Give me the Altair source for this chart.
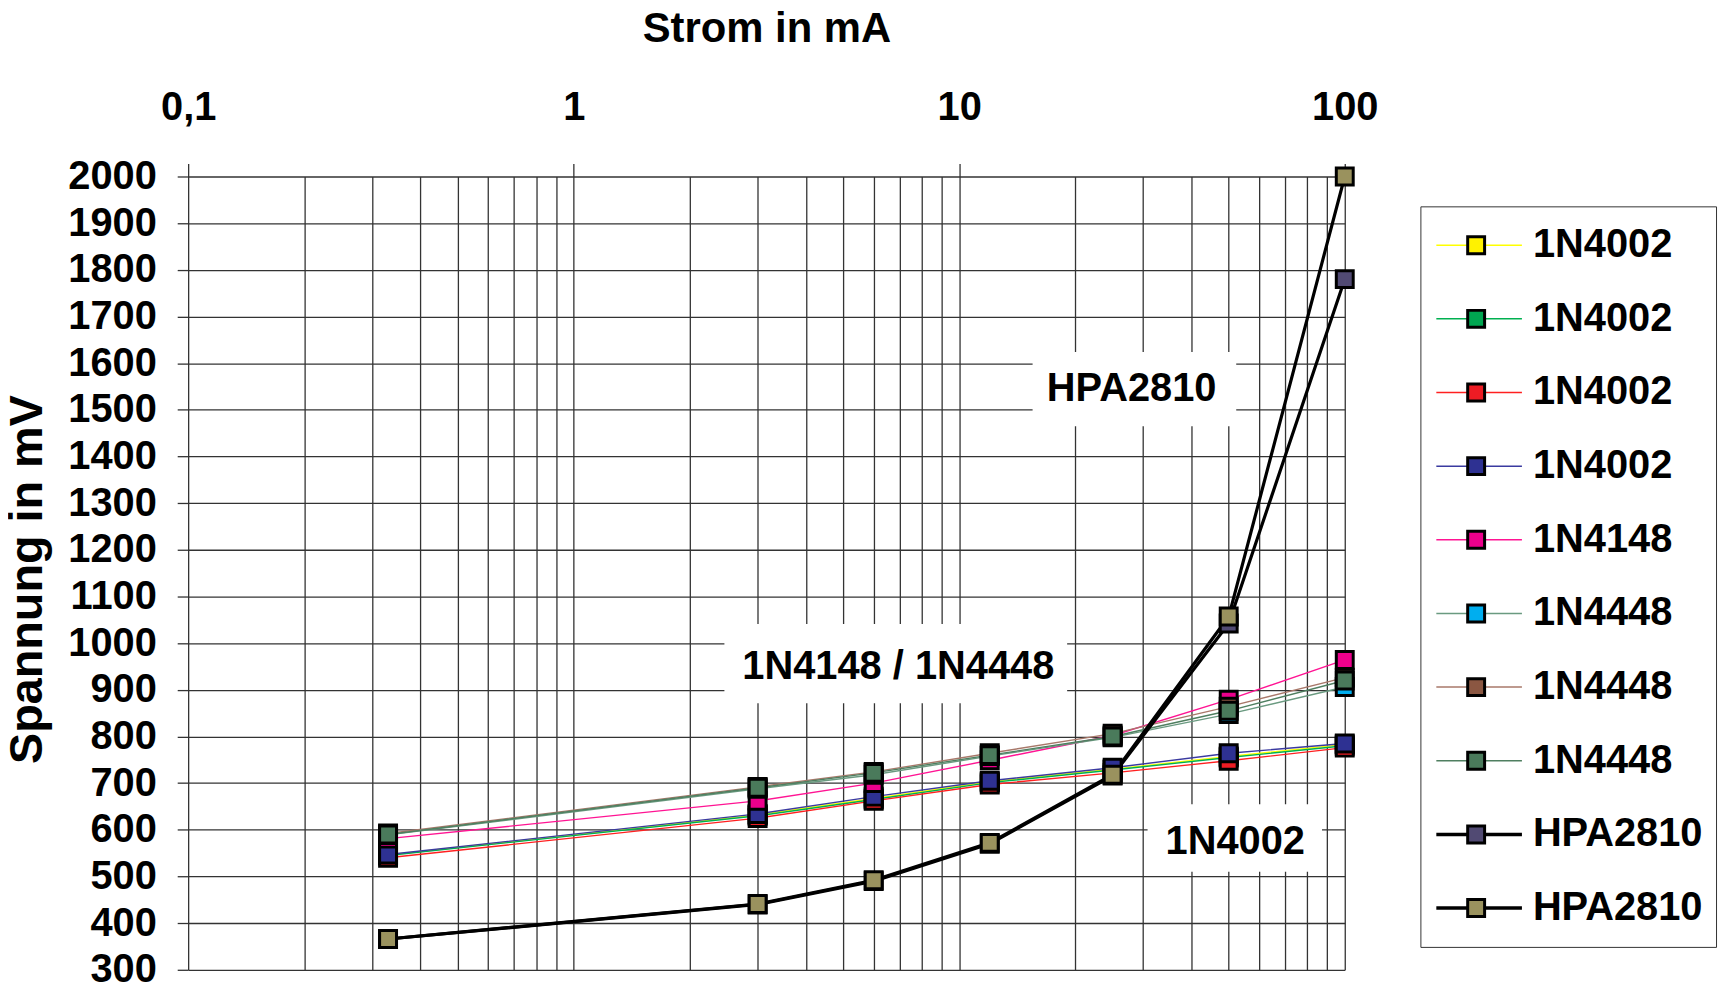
import altair as alt
import pandas as pd

FONT = "Liberation Sans"

# ---------------- data ----------------
current_ma = [0.33, 3, 6, 12, 25, 50, 100]

series_keys = ["1N4002 a", "1N4002 b", "1N4002 c", "1N4002 d", "1N4148 a",
               "1N4448 a", "1N4448 b", "1N4448 c", "HPA2810 a", "HPA2810 b"]

v_1n4002_yellow = [546, 632, 667, 703, 730, 757, 783]
v_1n4002_green = [545, 630, 665, 701, 728, 755, 780]
v_1n4002_red = [540, 625, 662, 697, 722, 748, 776]
v_1n4002_blue = [547, 634, 671, 705, 733, 764, 785]
v_1n4148_magenta = [581, 662, 700, 749, 802, 879, 964]
v_1n4448_cyan = [589, 688, 718, 758, 798, 848, 906]
v_1n4448_brown = [592, 692, 724, 764, 806, 864, 926]
v_1n4448_green = [590, 690, 722, 760, 800, 855, 920]
v_hpa_purple = [366, 440, 490, 570, 716, 1042, 1780]
v_hpa_khaki = [366, 441, 492, 572, 718, 1057, 2000]

series_values = [v_1n4002_yellow, v_1n4002_green, v_1n4002_red, v_1n4002_blue,
                 v_1n4148_magenta, v_1n4448_cyan, v_1n4448_brown, v_1n4448_green,
                 v_hpa_purple, v_hpa_khaki]

marker_colors = ["#FFF200", "#00A651", "#ED1C24", "#2E3192", "#EC008C",
                 "#00AEEF", "#8B5742", "#4A7A5B", "#514A73", "#9A925E"]
line_colors = ["#FFFF00", "#00B050", "#FF2020", "#3A3AA0", "#FF1493",
               "#6A9A80", "#A8786A", "#4F7F60", "#000000", "#000000"]

# grid / tick values
x_grid = [0.1, 0.2, 0.3, 0.4, 0.5, 0.6, 0.7, 0.8, 0.9,
          1, 2, 3, 4, 5, 6, 7, 8, 9,
          10, 20, 30, 40, 50, 60, 70, 80, 90, 100]
x_label_values = [0.1, 1, 10, 100]
x_labels = ["0,1", "1", "10", "100"]
y_grid = list(range(300, 2001, 50))

# annotations (data units)
ann_text = ["HPA2810", "1N4148 / 1N4448", "1N4002"]
ann_x = [28.0, 6.95, 52.0]
ann_y = [1518, 924, 548]
box_x0 = [15.5, 2.46, 30.8]
box_x1 = [52.3, 19.05, 87.3]
box_y0 = [1465, 871, 510]
box_y1 = [1624, 1041, 655]

# ---------------- tables ----------------
rows = []
for i, (k, vals) in enumerate(zip(series_keys, series_values)):
    for x, v in zip(current_ma, vals):
        rows.append({"series": k, "series_pt": k, "idx": i, "x": x, "y": v,
                     "hpa": k.startswith("HPA")})
df = pd.DataFrame(rows)
df_thin = df[~df["hpa"]].copy()
df_hpa = df[df["hpa"]].copy()
df_hpa["series_hpa"] = df_hpa["series"]

thin_keys = series_keys[:8]
hpa_keys = series_keys[8:]

ann = pd.DataFrame({"text": ann_text, "tx": ann_x, "ty": ann_y,
                    "x0": box_x0, "x1": box_x1, "y0": box_y0, "y1": box_y1})

# ---------------- layout ----------------
W, H = 1162, 797
PAD_L, PAD_T, PAD_R, PAD_B = 181, 167, 378, 13

# ---------------- scales / axes ----------------
xscale = alt.Scale(type="log", domain=[0.1, 100], nice=False)
yscale = alt.Scale(domain=[300, 2000], nice=False, zero=False)

x_major_test = " || ".join(f"datum.value == {v}" for v in x_label_values)
x_label_expr = "".join(f"datum.value == {v} ? '{t}' : " for v, t in zip(x_label_values, x_labels)) + "''"

xaxis = alt.Axis(
    orient="top", values=x_grid, grid=True, gridColor="#333333", gridWidth=1.3,
    domain=False, ticks=True, tickSize=13, tickColor="#333333", tickWidth=1.3,
    tickOpacity={"condition": {"test": x_major_test, "value": 1}, "value": 0},
    labelExpr=x_label_expr, labelFont=FONT, labelFontSize=40, labelFontWeight="bold",
    labelColor="black", labelPadding=44, labelBaseline="alphabetic",
    labelFlush=False, labelOverlap=False, labelLimit=300,
    title="Strom in mA", titleFont=FONT, titleFontSize=42, titleFontWeight="bold",
    titleColor="black", titleY=-136, titleBaseline="alphabetic",
)

yaxis = alt.Axis(
    orient="left", values=y_grid, grid=True, gridColor="#333333", gridWidth=1.3,
    domain=False, ticks=True, tickSize=11, tickColor="#333333", tickWidth=1.3,
    tickOpacity={"condition": {"test": "datum.value % 100 == 0", "value": 1}, "value": 0},
    labelExpr="datum.value % 100 == 0 ? datum.label : ''", format="d",
    labelFont=FONT, labelFontSize=40, labelFontWeight="bold", labelColor="black",
    labelPadding=21, labelBaseline="middle", labelFlush=False, labelOverlap=False,
    labelLimit=300,
    title="Spannung in mV", titleFont=FONT, titleFontSize=47, titleFontWeight="bold",
    titleColor="black", titleX=-147, titleY=H / 2 + 6, titleAngle=270,
    titleBaseline="alphabetic",
)

LX, LY, PAD, CH, RP, ROW = 1238, 30, 13, 52, 22, 74

legend_thin = alt.Legend(
    orient="none", legendX=LX, legendY=LY, title=None,
    symbolType="stroke", symbolSize=7396, symbolStrokeWidth=1.5, symbolOffset=2,
    clipHeight=CH, rowPadding=RP, padding=PAD,
    labelExpr="''", labelFontSize=10,
)

legend_hpa = alt.Legend(
    orient="none", legendX=LX, legendY=LY + 8 * ROW, title=None,
    symbolType="stroke", symbolSize=7396, symbolStrokeWidth=3.5, symbolOffset=1,
    clipHeight=CH, rowPadding=RP, padding=PAD,
    labelExpr="''", labelFontSize=10,
)

legend_markers = alt.Legend(
    orient="none", legendX=LX, legendY=LY, title=None,
    symbolType="square", symbolSize=289, symbolStrokeColor="black",
    symbolStrokeWidth=3, symbolOffset=23,
    clipHeight=CH, rowPadding=RP, padding=PAD,
    strokeColor="#333333",
    labelFont=FONT, labelFontSize=40, labelFontWeight="bold", labelColor="black",
    labelOffset=37, labelLimit=400,
    labelExpr="substring(datum.label, 0, indexof(datum.label, ' '))",
)

thin_lines = alt.Chart(df_thin).mark_line(clip=False, strokeWidth=1.4).encode(
    x=alt.X("x:Q", scale=xscale, axis=xaxis),
    y=alt.Y("y:Q", scale=yscale, axis=yaxis),
    color=alt.Color("series:N", scale=alt.Scale(domain=thin_keys, range=line_colors[:8]),
                    legend=legend_thin),
    order=alt.Order("x:Q"),
)

hpa_lines = alt.Chart(df_hpa).mark_line(clip=False, strokeWidth=3.2).encode(
    x=alt.X("x:Q"),
    y=alt.Y("y:Q"),
    stroke=alt.Stroke("series_hpa:N", scale=alt.Scale(domain=hpa_keys, range=line_colors[8:]),
                      legend=legend_hpa),
    order=alt.Order("x:Q"),
)

points = alt.Chart(df).mark_point(shape="square", filled=True, size=289, stroke="black",
                                  strokeWidth=3, opacity=1, clip=False).encode(
    x=alt.X("x:Q"),
    y=alt.Y("y:Q"),
    fill=alt.Fill("series_pt:N", scale=alt.Scale(domain=series_keys, range=marker_colors),
                  legend=legend_markers),
)

boxes = alt.Chart(ann).mark_rect(fill="white", strokeWidth=0).encode(
    x=alt.X("x0:Q"), x2="x1:Q",
    y=alt.Y("y0:Q"), y2="y1:Q",
)

texts = alt.Chart(ann).mark_text(font=FONT, fontSize=40, fontWeight="bold",
                                 align="center", baseline="alphabetic",
                                 color="black").encode(
    x=alt.X("tx:Q"),
    y=alt.Y("ty:Q"),
    text="text:N",
)

chart = alt.layer(thin_lines, hpa_lines, points, boxes, texts).properties(
    width=W, height=H,
    padding={"left": PAD_L, "top": PAD_T, "right": PAD_R, "bottom": PAD_B},
    autosize=alt.AutoSizeParams(type="none"),
    background="white",
).configure(font=FONT).configure_view(stroke=None)

chart.save("out.html", embed_options={"renderer": "svg", "actions": False})
